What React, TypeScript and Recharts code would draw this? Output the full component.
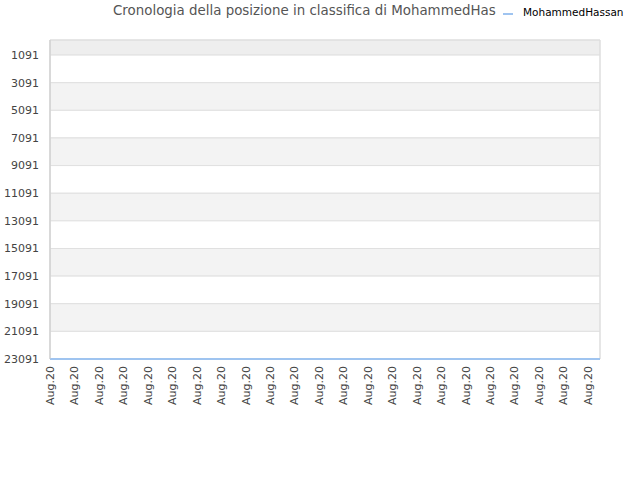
import React from 'react';
import { LineChart, Line, XAxis, YAxis, ReferenceArea } from 'recharts';

const dates = [
  'Aug.20', 'Aug.20', 'Aug.20', 'Aug.20', 'Aug.20', 'Aug.20', 'Aug.20', 'Aug.20',
  'Aug.20', 'Aug.20', 'Aug.20', 'Aug.20', 'Aug.20', 'Aug.20', 'Aug.20', 'Aug.20',
  'Aug.20', 'Aug.20', 'Aug.20', 'Aug.20', 'Aug.20', 'Aug.20', 'Aug.20', 'Aug.20',
  'Aug.20', 'Aug.20', 'Aug.20', 'Aug.20', 'Aug.20', 'Aug.20', 'Aug.20', 'Aug.20',
  'Aug.20', 'Aug.20', 'Aug.20', 'Aug.20', 'Aug.20', 'Aug.20', 'Aug.20', 'Aug.20',
  'Aug.20', 'Aug.20', 'Aug.20', 'Aug.20', 'Aug.20', 'Aug.20',
];

const ranks = [
  23091, 23091, 23091, 23091, 23091, 23091, 23091, 23091,
  23091, 23091, 23091, 23091, 23091, 23091, 23091, 23091,
  23091, 23091, 23091, 23091, 23091, 23091, 23091, 23091,
  23091, 23091, 23091, 23091, 23091, 23091, 23091, 23091,
  23091, 23091, 23091, 23091, 23091, 23091, 23091, 23091,
  23091, 23091, 23091, 23091, 23091, 23091,
];

const yTicks = [1091, 3091, 5091, 7091, 9091, 11091, 13091, 15091, 17091, 19091, 21091, 23091];

const seriesName = 'MohammedHassan';
const title = 'Cronologia della posizione in classifica di MohammedHas';

const data = dates.map((d, i) => ({ date: d, rank: ranks[i] }));
const bounds = [0, ...yTicks];

const font = '"DejaVu Sans", sans-serif';

const XTick = (props: any) => {
  const { x, y, payload } = props;
  return (
    <text
      x={x}
      y={y}
      dy={4}
      transform={`rotate(-90 ${x} ${y})`}
      textAnchor="end"
      fontSize={11}
      fontFamily={font}
      fill="#444"
    >
      {payload.value}
    </text>
  );
};

export default function App() {
  return (
    <div style={{ position: 'absolute', left: 0, top: 0, width: 640, height: 480, background: '#fff' }}>
      <div
        style={{
          position: 'absolute',
          left: 113,
          top: 3,
          fontFamily: font,
          fontSize: 13.4,
          color: '#555',
          whiteSpace: 'nowrap',
        }}
      >
        {title}
      </div>
      <div style={{ position: 'absolute', left: 503, top: 13, width: 10, height: 2, background: '#9fc4f0' }} />
      <div
        style={{
          position: 'absolute',
          left: 523,
          top: 6,
          fontFamily: font,
          fontSize: 10.5,
          color: '#000',
          whiteSpace: 'nowrap',
        }}
      >
        {seriesName}
      </div>
      <LineChart width={640} height={480} data={data} margin={{ top: 40, right: 40, bottom: 0, left: 0 }}>
        {bounds.slice(0, -1).map((b, i) => (
          <ReferenceArea
            key={b}
            y1={b}
            y2={bounds[i + 1]}
            fill={i === 0 ? '#eeeeee' : i % 2 === 0 ? '#f3f3f3' : '#ffffff'}
            fillOpacity={1}
            stroke="#e0e0e0"
            strokeWidth={1}
          />
        ))}
        <ReferenceArea y1={0} y2={23091} fill="none" stroke="#dddddd" strokeWidth={1} />
        <XAxis
          dataKey="date"
          interval={1}
          height={121}
          tickLine={false}
          tickSize={0}
          tickMargin={7}
          axisLine={false}
          tick={<XTick />}
        />
        <YAxis
          width={50}
          reversed
          domain={[0, 23091]}
          ticks={yTicks}
          interval={0}
          tickLine={false}
          tickSize={0}
          tickMargin={11}
          axisLine={{ stroke: '#cccccc' }}
          tick={{ fontSize: 11, fontFamily: font, fill: '#444' }}
        />
        <Line
          dataKey="rank"
          name={seriesName}
          stroke="#9fc4f0"
          strokeWidth={2}
          dot={false}
          isAnimationActive={false}
        />
      </LineChart>
    </div>
  );
}
